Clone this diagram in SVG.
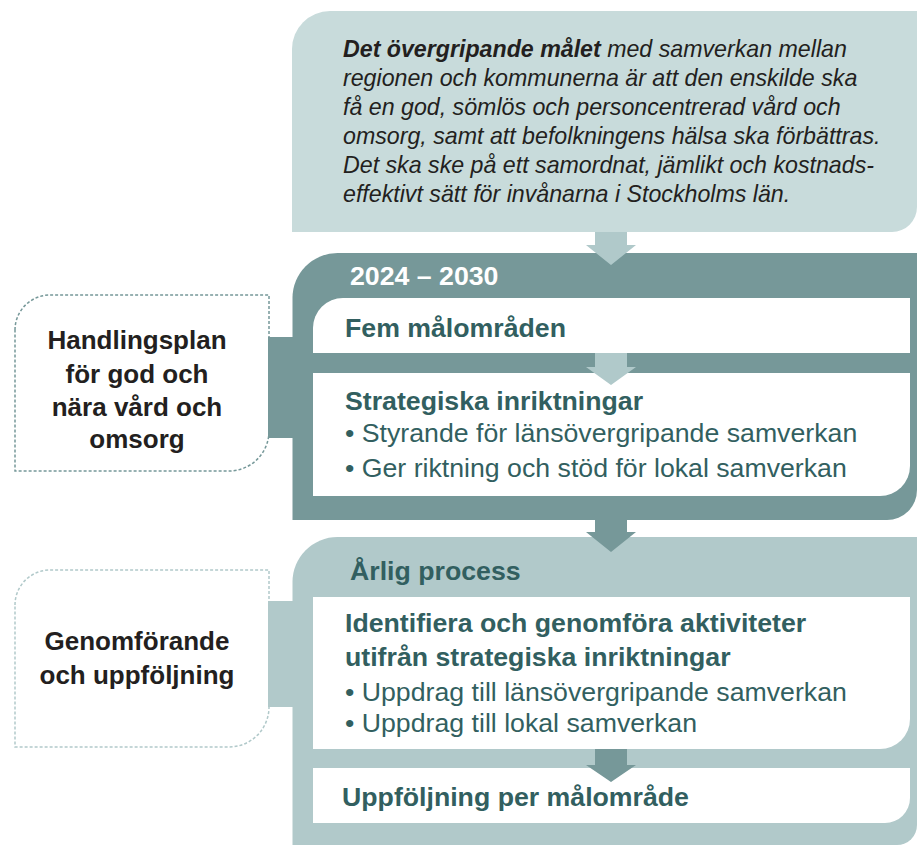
<svg xmlns="http://www.w3.org/2000/svg" width="917" height="846" viewBox="0 0 917 846">
<style>
.t{font-family:"Liberation Sans",Arial,sans-serif}
.b{font-weight:bold}
.teal{fill:#325f60}
.dk{fill:#231f20}
.h{font-size:26.7px}
.side{font-size:26px;font-weight:bold;fill:#231f20;text-anchor:middle}
.it{font-size:23.2px;font-style:italic;fill:#231f20}
.dash{fill:#fff;stroke-width:1.5;stroke-dasharray:3 2}
</style>
<rect width="917" height="846" fill="#fff"/>
<g id="goal">
<path d="M292,49 A38,38 0 0 1 330,11 L917,11 L917,207 A25,25 0 0 1 892,232 L292,232 Z" fill="#c8dbdb"/>
<text class="t it" x="343" y="57"><tspan font-weight="bold">Det övergripande målet</tspan> med samverkan mellan</text>
<text class="t it" x="343" y="86">regionen och kommunerna är att den enskilde ska</text>
<text class="t it" x="343" y="115">få en god, sömlös och personcentrerad vård och</text>
<text class="t it" x="343" y="144">omsorg, samt att befolkningens hälsa ska förbättras.</text>
<text class="t it" x="343" y="173">Det ska ske på ett samordnat, jämlikt och kostnads-</text>
<text class="t it" x="343" y="202">effektivt sätt för invånarna i Stockholms län.</text>
</g>
<g id="handlingsplan-label">
<path class="dash" d="M15,330 A35,35 0 0 1 50,295 L269,295 L269,431 A40,40 0 0 1 229,471 L15,471 Z" stroke="#769899"/>
<text class="t side" x="137" y="349">Handlingsplan</text>
<text class="t side" x="137" y="383">för god och</text>
<text class="t side" x="137" y="416">nära vård och</text>
<text class="t side" x="137" y="448">omsorg</text>
</g>
<g id="plan-2024-2030">
<rect x="268" y="337" width="26" height="101" fill="#769899"/>
<path d="M292.5,298 A45,45 0 0 1 337.5,253 L917,253 L917,490 A30,30 0 0 1 887,520 L292.5,520 Z" fill="#769899"/>
<text class="t b h" x="350" y="285" fill="#fff">2024 – 2030</text>
<g id="fem-malomraden">
<path d="M313,328 A30,30 0 0 1 343,298 L910,298 L910,353 L313,353 Z" fill="#fff"/>
<text class="t b h teal" x="345" y="337">Fem målområden</text>
</g>
<g id="strategiska">
<path d="M313,373 L910,373 L910,466 A30,30 0 0 1 880,496 L313,496 Z" fill="#fff"/>
<text class="t b h teal" x="345" y="410">Strategiska inriktningar</text>
<text class="t h teal" x="345" y="442">• Styrande för länsövergripande samverkan</text>
<text class="t h teal" x="345" y="477">• Ger riktning och stöd för lokal samverkan</text>
</g>
</g>
<g id="genomforande-label">
<path class="dash" d="M15,605 A35,35 0 0 1 50,570 L269,570 L269,707 A40,40 0 0 1 229,747 L15,747 Z" stroke="#b1c9ca"/>
<text class="t side" x="137" y="650">Genomförande</text>
<text class="t side" x="137" y="684">och uppföljning</text>
</g>
<g id="arlig-process">
<rect x="268" y="601" width="26" height="106" fill="#b1c9ca"/>
<path d="M292.5,582 A45,45 0 0 1 337.5,537 L917,537 L917,825 A20,20 0 0 1 897,845 L292.5,845 Z" fill="#b1c9ca"/>
<text class="t b h teal" x="350" y="580">Årlig process</text>
<g id="identifiera">
<path d="M313,597 L910,597 L910,719 A30,30 0 0 1 880,749 L313,749 Z" fill="#fff"/>
<text class="t b h teal" x="345" y="632">Identifiera och genomföra aktiviteter</text>
<text class="t b h teal" x="345" y="666">utifrån strategiska inriktningar</text>
<text class="t h teal" x="345" y="701">• Uppdrag till länsövergripande samverkan</text>
<text class="t h teal" x="345" y="732">• Uppdrag till lokal samverkan</text>
</g>
<g id="uppfoljning">
<path d="M313,768 L910,768 L910,798 A25,25 0 0 1 885,823 L313,823 Z" fill="#fff"/>
<text class="t b h teal" x="342" y="806">Uppföljning per målområde</text>
</g>
</g>
<g id="connectors">
<polygon points="595,232 627,232 627,245 636,245 611,265 586,245 595,245" fill="#b0c9ca"/>
<polygon points="595,353 627,353 627,367 636,367 611,385 586,367 595,367" fill="#b0c9ca"/>
<polygon points="595,520 627,520 627,532 636,532 611,552 586,532 595,532" fill="#769899"/>
<polygon points="595,749 627,749 627,765 636,765 611,782 586,765 595,765" fill="#769899"/>
</g>
</svg>
